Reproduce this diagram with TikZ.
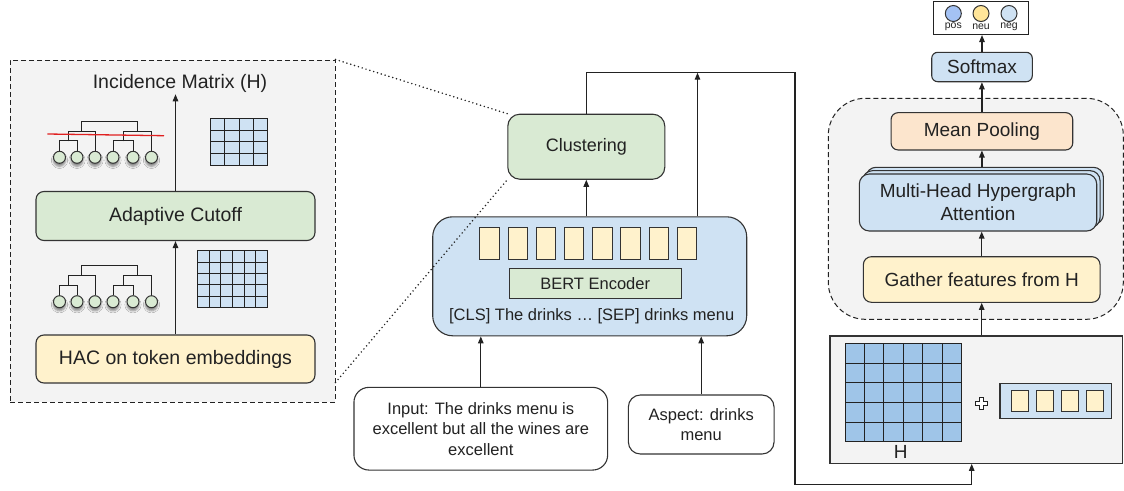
\documentclass[tikz,border=0pt]{standalone}
\usepackage{fontspec}
\setmainfont{Liberation Sans}
\usetikzlibrary{arrows.meta,shadows.blur}

\definecolor{panelgray}{HTML}{F3F3F3}
\definecolor{boxgreen}{HTML}{D9EAD3}
\definecolor{boxyellow}{HTML}{FFF2CC}
\definecolor{boxblue}{HTML}{CFE2F3}
\definecolor{boxorange}{HTML}{FCE5CD}
\definecolor{cellblue}{HTML}{9FC5E8}
\definecolor{posblue}{HTML}{A4C2F4}
\definecolor{neuyellow}{HTML}{FFE599}
\definecolor{edgegray}{HTML}{333333}
\definecolor{txt}{HTML}{222222}
\definecolor{cutred}{HTML}{E02020}

% dendrogram over six leaves, leaves at height #1
\newcommand{\hactree}[2]{%
  \begin{scope}[shift={(0,#1)}]
    \foreach \cx [count=\k] in {59.5,77,95,113,133,151.5}
      \node[leaf] (#2\k) at (\cx,0) {};
    \draw[line width=1pt, draw=txt] (#21.north) -- ++(0,-10) -| (#22.north);
    \draw[line width=1pt, draw=txt] (68.25,-16) -- (68.25,-26) -| (#23.north);
    \draw[line width=1pt, draw=txt] (#24.north) -- ++(0,-10) -| (#25.north);
    \draw[line width=1pt, draw=txt] (123,-16) -- (123,-26) -| (#26.north);
    \draw[line width=1pt, draw=txt] (81.625,-26) -- (81.625,-36) -| (137.25,-26);
  \end{scope}}

% grid of cells: x0, y0, columns, rows, cell width, cell height, colour
\newcommand{\cellgrid}[7]{%
  \foreach \i in {1,...,#3}
    \foreach \j in {1,...,#4}
      \draw[fill=#7, draw=txt, line width=0.9pt] ({#1+(\i-1)*#5},{#2+(\j-1)*#6}) rectangle ++(#5,#6);}

\begin{document}
\begin{tikzpicture}[x=1pt,y=-1pt,
    blok/.style={draw=edgegray, line width=1.1pt, rounded corners=#1, inner sep=0pt, align=center, text=txt},
    blok/.default=8pt,
    pil/.style={-{Triangle[length=7pt,width=5.5pt]}, line width=1.2pt, draw=txt},
    tok/.style={draw=edgegray, line width=1pt, fill=boxyellow, inner sep=0pt, minimum width=19.3pt, minimum height=32pt},
    leaf/.style={circle, draw=edgegray, line width=1pt, fill=boxgreen, inner sep=0pt, minimum size=12pt,
      blur shadow={shadow xshift=0pt, shadow yshift=-3pt, shadow opacity=45}},
    zoomline/.style={draw=txt, line width=1.7pt, line cap=round, dash pattern=on 0pt off 4pt},
    panel/.style={draw=txt, fill=panelgray, line width=1pt, dash pattern=on 5pt off 3pt, inner sep=0pt},
    bigfont/.style={font=\fontsize{19.5}{23}\selectfont},
    midfont/.style={font=\fontsize{16.5}{20.5}\selectfont},
    rfont/.style={font=\fontsize{19}{23}\selectfont},
    smallfont/.style={font=\fontsize{10.5}{12}\selectfont, text=txt, inner sep=0pt},
  ]
  \useasboundingbox (0,0) rectangle (1124,490);

  % Left panel
  \node[panel, minimum width=325pt, minimum height=342pt] (lp) at (172.5,231) {};
  \node[bigfont, text=txt, inner sep=2pt] (inc) at (180,83) {Incidence Matrix (H)};
  \node[blok, fill=boxgreen, minimum width=279pt, minimum height=49pt, bigfont] (adapt) at (175.5,216) {Adaptive Cutoff};
  \node[blok, fill=boxyellow, minimum width=279pt, minimum height=48pt, bigfont] (hac) at (175.5,359) {HAC on token embeddings};
  \draw[pil] (hac.north) -- (adapt.south);
  \draw[pil] (adapt.north) -- (adapt.north |- inc.south);

  \hactree{157.3}{up}
  \draw[cutred, line width=1.3pt] (47.3,134) -- (164,135.7);
  \hactree{301.7}{lo}
  \cellgrid{210.7}{118.3}{4}{4}{14.15}{11.7}{boxblue}
  \cellgrid{197.3}{250.7}{6}{5}{11.67}{11.33}{boxblue}

  % Middle: encoder and clustering
  \node[blok=12pt, fill=boxgreen, minimum width=157pt, minimum height=65pt, font=\fontsize{18}{21}\selectfont] (clus) at (586.3,146.7) {Clustering};
  \node[blok=20pt, fill=boxblue, minimum width=314pt, minimum height=119pt] (enc) at (589.7,276.3) {};
  \foreach \i in {0,...,7}
    \node[tok] (t\i) at ({489.6+\i*28.2},243.3) {};
  \node[draw=edgegray, line width=1pt, fill=boxgreen, minimum width=171.7pt, minimum height=29.7pt,
    inner sep=0pt, midfont, text=txt] (bert) at (595.2,283.2) {BERT Encoder};
  \node[midfont, text=txt] (cls) at (591.7,316.7) {[CLS] The drinks … [SEP] drinks menu};
  \node[blok=15pt, fill=white, minimum width=253.7pt, minimum height=82.7pt, midfont] (inp) at (480.8,428.7)
    {Input: The drinks menu is\\excellent but all the wines are\\excellent};
  \node[blok=12pt, fill=white, minimum width=145.7pt, minimum height=59pt, midfont] (asp) at (701.2,424.5)
    {Aspect: drinks\\menu};

  \draw[pil] (inp.north) -- (inp.north |- enc.south);
  \draw[pil] (asp.north) -- (asp.north |- enc.south);
  \draw[pil] (enc.north -| clus.south) -- (clus.south);
  \draw[zoomline] (lp.north east) -- (clus.north west);
  \draw[zoomline] ([yshift=20pt]lp.south east) -- (clus.south west);

  % Right: hypergraph part
  \node[panel, rounded corners=37pt, minimum width=295pt, minimum height=221pt] (rp) at (975.8,208.8) {};
  \node[draw=edgegray, line width=1.1pt, fill=panelgray, minimum width=292.8pt, minimum height=127.3pt,
    inner sep=0pt] (hbox) at (976.4,399.65) {};
  \cellgrid{845}{343.3}{6}{5}{19.45}{19.7}{cellblue}
  \node[rfont, text=txt, inner sep=0pt] (hlab) at (900.7,452) {H};
  \draw[fill=white, line width=1pt, draw=txt, shift={(981,403.3)}]
    (-2,-6) -- (2,-6) -- (2,-2) -- (6,-2) -- (6,2) -- (2,2) -- (2,6) -- (-2,6) -- (-2,2) -- (-6,2) -- (-6,-2) -- (-2,-2) -- cycle;
  \node[draw=edgegray, line width=1.1pt, fill=boxblue, minimum width=111.7pt, minimum height=35.4pt,
    inner sep=0pt] (emb) at (1055.85,401) {};
  \foreach \i in {0,...,3}
    \node[tok, minimum width=16.7pt, minimum height=21.3pt] (e\i) at ({1020+\i*25},400.7) {};

  \node[blok=8pt, fill=boxyellow, minimum width=236.7pt, minimum height=45.6pt, rfont] (gat) at (981.7,279.5) {Gather features from H};
  \node[blok=10pt, fill=boxblue, minimum width=237.4pt, minimum height=57pt] (mhb) at (984.7,195.8) {};
  \node[blok=10pt, fill=boxblue, minimum width=237.4pt, minimum height=57pt] (mha) at (981.35,199.15) {};
  \node[blok=10pt, fill=boxblue, minimum width=237.4pt, minimum height=57pt, rfont] (mh) at (978,202.5)
    {Multi-Head Hypergraph\\Attention};
  \node[blok=7pt, fill=boxorange, minimum width=181.7pt, minimum height=37.3pt, rfont] (mean) at (981.9,131.3) {Mean Pooling};
  \node[blok=6pt, fill=boxblue, minimum width=100.6pt, minimum height=29.4pt, rfont] (soft) at (982,67) {Softmax};
  \node[draw=txt, line width=1.1pt, fill=white, minimum width=95pt, minimum height=33pt, inner sep=0pt] (out) at (981,18) {};
  \node[circle, draw=edgegray, line width=1pt, fill=posblue, minimum size=16pt, inner sep=0pt] (pos) at (953.3,13.5) {};
  \node[circle, draw=edgegray, line width=1pt, fill=neuyellow, minimum size=16pt, inner sep=0pt] (neu) at (981,13.5) {};
  \node[circle, draw=edgegray, line width=1pt, fill=boxblue, minimum size=16pt, inner sep=0pt] (neg) at (1009,13.5) {};
  \node[smallfont] at (953.3,26.5) {pos};
  \node[smallfont] at (981,26.5) {neu};
  \node[smallfont] at (1009,26.5) {neg};

  \draw[pil] (hbox.north -| gat.south) -- (gat.south);
  \draw[pil] (gat.north) -- (gat.north |- mh.south);
  \draw[pil] (mean.south |- mhb.north) -- (mean.south);
  \draw[pil] (mean.north) -- (mean.north |- soft.south);
  \draw[pil] (soft.north) -- (soft.north |- out.south);

  % Route from clustering to H
  \coordinate (knA) at (795,72.7);
  \coordinate (knB) at (795,484.3);
  \coordinate (hin) at (971.7,0);
  \coordinate (encup) at (697.5,72.7);
  \draw[pil] (clus.north) |- (knA) -- (knB) -| (hin |- hbox.south);
  \draw[pil] (enc.north -| encup) -- (encup);
\end{tikzpicture}
\end{document}
